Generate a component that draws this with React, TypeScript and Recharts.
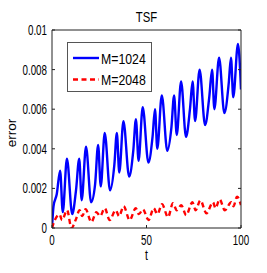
import { LineChart, Line, XAxis, YAxis, Legend, Label } from 'recharts';

// M=1024 curve, key points
const tM1024 = [
  0, 0.8, 2.5, 4.3, 5.7, 7.9, 10.7, 12.7, 14.4, 15.7, 18.0, 20.7, 22.8, 24.4, 25.8, 27.9,
  30.7, 33.0, 34.3, 35.6, 37.8, 40.8, 43.0, 44.4, 45.8, 48.0, 51.0, 53.2, 54.5, 55.7, 58.1,
  61.0, 63.2, 64.6, 66.0, 68.3, 70.9, 73.0, 74.4, 75.7, 78.1, 81.0, 83.2, 84.7, 85.9, 88.4,
  91.2, 93.5, 94.7, 95.9, 98.4, 100,
];
const errM1024 = [
  0, 0.0011, 0.0017, 0.0029, 0.0008, 0.0035, 0.0007, 0.0019, 0.0035, 0.0014, 0.0041, 0.0013,
  0.0022, 0.0042, 0.0021, 0.0048, 0.0019, 0.0032, 0.0048, 0.0028, 0.0054, 0.0026, 0.0039,
  0.0055, 0.0034, 0.0061, 0.0033, 0.0046, 0.006, 0.004, 0.0067, 0.0039, 0.0051, 0.0067,
  0.0047, 0.0074, 0.0046, 0.006, 0.0074, 0.0054, 0.008, 0.0052, 0.0066, 0.008, 0.006, 0.0086,
  0.0058, 0.0073, 0.0086, 0.0066, 0.0093, 0.007,
];

// M=2048 curve
const tM2048 = [
  0, 1.5, 4.0, 5.3, 8.0, 10.3, 12.5, 14.6, 16.0, 17.8, 20.8, 23.5, 25.5, 27.9, 30.5, 33.7,
  35.5, 37.9, 41.1, 44.3, 46.0, 48.1, 51.1, 53.8, 55.8, 58.2, 61.4, 64.0, 66.0, 68.4, 71.0,
  74.3, 76.0, 78.5, 81.7, 85.2, 86.5, 88.7, 91.4, 94.9, 96.0, 97.9, 100,
];
const errM2048 = [
  0, 0.0004, 0.00068, 0.0004, 0.0009, 0.0, 0.0004, 0.0009, 0.0006, 0.00095, 0.0003, 0.0008,
  0.0006, 0.001, 0.0004, 0.0009, 0.0006, 0.0011, 0.0004, 0.001, 0.0007, 0.00094, 0.0004,
  0.001, 0.0007, 0.0012, 0.00055, 0.00125, 0.0009, 0.00115, 0.00065, 0.0013, 0.0009, 0.0014,
  0.00074, 0.0013, 0.001, 0.00145, 0.0009, 0.0013, 0.0011, 0.00158, 0.00116,
];

const xTicks = [0, 50, 100];
const yTicks = [0, 0.002, 0.004, 0.006, 0.008, 0.01];
const yTickLabels = ['0', '0.002', '0.004', '0.006', '0.008', '0.01'];

const dataM1024 = tM1024.map((t, i) => ({ t, err: errM1024[i] }));
const dataM2048 = tM2048.map((t, i) => ({ t, err: errM2048[i] }));

const FONT = '"Liberation Sans", Arial, Helvetica, sans-serif';
const AXIS = '#222';
const TICK_LEN = 3;

function BottomTick(props: any) {
  const { x, y, payload } = props;
  return (
    <g>
      <line x1={x} y1={y} x2={x} y2={y - TICK_LEN} stroke={AXIS} />
      <text
        transform={`translate(${x},${y + 17}) scale(0.7,1)`}
        textAnchor="middle"
        fontSize={14}
        fontFamily={FONT}
        fill="#000"
      >
        {payload.value}
      </text>
    </g>
  );
}

function TopTick(props: any) {
  const { x, y } = props;
  return <line x1={x} y1={y} x2={x} y2={y + TICK_LEN} stroke={AXIS} />;
}

function LeftTick(props: any) {
  const { x, y, index } = props;
  return (
    <g>
      <line x1={x} y1={y} x2={x + TICK_LEN} y2={y} stroke={AXIS} />
      <text
        transform={`translate(${x - 5},${y + 5}) scale(0.7,1)`}
        textAnchor="end"
        fontSize={14}
        fontFamily={FONT}
        fill="#000"
      >
        {yTickLabels[index]}
      </text>
    </g>
  );
}

function RightTick(props: any) {
  const { x, y } = props;
  return <line x1={x} y1={y} x2={x - TICK_LEN} y2={y} stroke={AXIS} />;
}

function LegendBox(props: any) {
  const items = props.payload || [];
  return (
    <div
      style={{
        width: 85,
        height: 50,
        border: '1px solid #555',
        background: '#fff',
        boxSizing: 'border-box',
      }}
    >
      <svg width={83} height={48} style={{ display: 'block' }}>
        {items.map((item: any, i: number) => {
          const cy = 15 + i * 21.5;
          return (
            <g key={item.value}>
              <line
                x1={5}
                x2={31}
                y1={cy}
                y2={cy}
                stroke={item.color}
                strokeWidth={2.4}
                strokeDasharray={item.payload?.strokeDasharray}
              />
              <text
                transform={`translate(33,${cy + 5.5}) scale(0.82,1)`}
                fontSize={15}
                fontFamily={FONT}
                fill="#000"
              >
                {item.value}
              </text>
            </g>
          );
        })}
      </svg>
    </div>
  );
}

export default function App() {
  return (
    <div style={{ position: 'absolute', left: 0, top: 0, width: 267, height: 273, background: '#fff' }}>
      <LineChart width={267} height={273} margin={{ top: 0, right: 0, bottom: 0, left: 0 }}>
        <XAxis
          xAxisId="bottom"
          dataKey="t"
          type="number"
          domain={[0, 100]}
          ticks={xTicks}
          height={45}
          tickSize={0}
          tickMargin={0}
          tickLine={false}
          axisLine={{ stroke: AXIS }}
          tick={<BottomTick />}
          allowDataOverflow
        >
          <Label
            content={(p: any) => {
              const vb = p.viewBox;
              return (
                <text
                  transform={`translate(${vb.x + vb.width / 2},${vb.y + 32}) scale(0.75,1)`}
                  textAnchor="middle"
                  fontSize={14}
                  fontFamily={FONT}
                  fill="#000"
                >
                  t
                </text>
              );
            }}
          />
        </XAxis>
        <XAxis
          xAxisId="top"
          orientation="top"
          type="number"
          domain={[0, 100]}
          ticks={xTicks}
          height={30}
          tickSize={0}
          tickMargin={0}
          tickLine={false}
          axisLine={{ stroke: AXIS }}
          tick={<TopTick />}
          allowDataOverflow
        >
          <Label
            content={(p: any) => {
              const vb = p.viewBox;
              return (
                <text
                  transform={`translate(${vb.x + vb.width / 2},${vb.y + 22}) scale(0.78,1)`}
                  textAnchor="middle"
                  fontSize={14.5}
                  fontFamily={FONT}
                  fill="#000"
                >
                  TSF
                </text>
              );
            }}
          />
        </XAxis>
        <YAxis
          yAxisId="left"
          type="number"
          domain={[0, 0.01]}
          ticks={yTicks}
          width={52}
          tickSize={0}
          tickMargin={0}
          tickLine={false}
          axisLine={{ stroke: AXIS }}
          tick={<LeftTick />}
          allowDataOverflow
        >
          <Label
            content={(p: any) => {
              const vb = p.viewBox;
              return (
                <text
                  transform={`translate(16,${vb.y + 103}) rotate(-90)`}
                  textAnchor="middle"
                  fontSize={13.5}
                  fontFamily={FONT}
                  fill="#000"
                >
                  error
                </text>
              );
            }}
          />
        </YAxis>
        <YAxis
          yAxisId="right"
          orientation="right"
          type="number"
          domain={[0, 0.01]}
          ticks={yTicks}
          width={26}
          tickSize={0}
          tickMargin={0}
          tickLine={false}
          axisLine={{ stroke: AXIS }}
          tick={<RightTick />}
          allowDataOverflow
        />
        <Legend
          layout="horizontal"
          verticalAlign="middle"
          align="center"
          content={<LegendBox />}
          wrapperStyle={{ left: 67, top: 42, width: 85, height: 50 }}
        />
        <Line
          xAxisId="bottom"
          yAxisId="left"
          data={dataM1024}
          dataKey="err"
          name="M=1024"
          type="monotone"
          stroke="#0000ff"
          strokeWidth={2.4}
          dot={false}
          isAnimationActive={false}
        />
        <Line
          xAxisId="bottom"
          yAxisId="left"
          data={dataM2048}
          dataKey="err"
          name="M=2048"
          type="monotone"
          stroke="#ff0000"
          strokeWidth={2.4}
          strokeDasharray="5 3.5"
          dot={false}
          isAnimationActive={false}
        />
      </LineChart>
    </div>
  );
}
